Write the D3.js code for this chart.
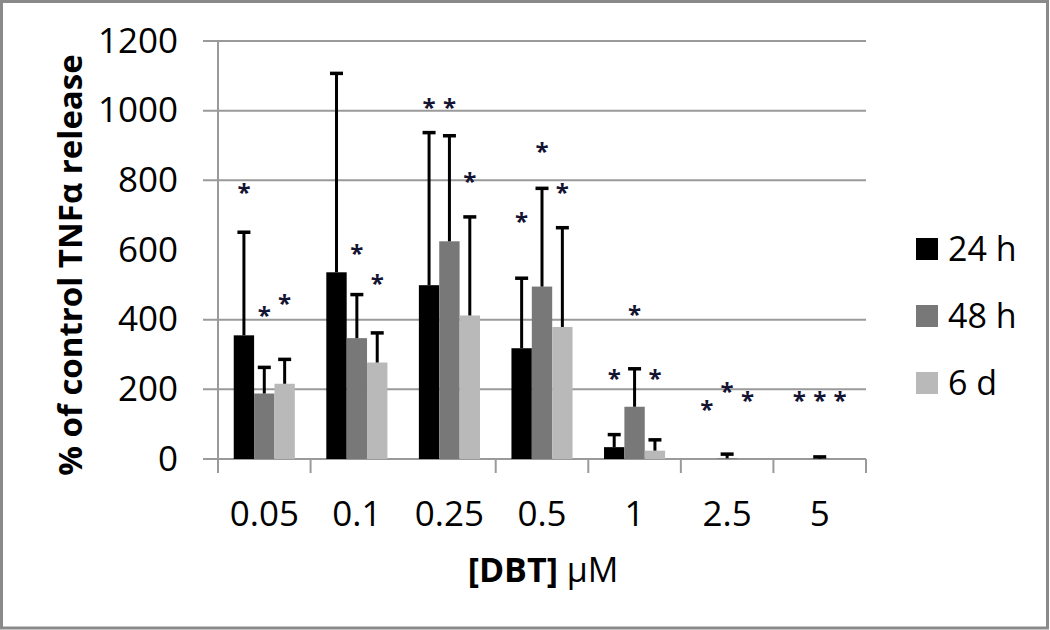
<!DOCTYPE html>
<html>
<head>
<meta charset="utf-8">
<script src="https://cdn.jsdelivr.net/npm/d3@7"></script>
<style>
  body { margin: 0; background: #fff; }
  svg text { font-family: "Open Sans", sans-serif; fill: #000; }
</style>
</head>
<body>
<div id="chart"></div>
<script>
// doses on the x axis
var doses = ["0.05", "0.1", "0.25", "0.5", "1", "2.5", "5"];
var seriesNames = ["24 h", "48 h", "6 d"];

// mean % of control TNFa release
var mean24h = [355, 536, 499, 318, 34, 0, 0];
var mean48h = [188, 347, 625, 495, 150, 2, 1];
var mean6d  = [216, 277, 412, 379, 24, 0, 0];

// upper error bar length
var sd24h = [296, 571, 438, 201, 36, 0, 0];
var sd48h = [75, 125, 303, 282, 109, 12, 5];
var sd6d  = [70, 85, 283, 285, 31, 0, 0];

// height of the significance stars, null = no star
var star24h = [779, null, 1022, 694, 243, 155, 181];
var star48h = [426, 604, 1022, 897, 428, 208, 181];
var star6d  = [460, 517, 810, 779, 243, 181, 181];

var yTicks = [0, 200, 400, 600, 800, 1000, 1200];
var yGridMissing = [600];      // original has no gridline / tick at 600
var xTickMissing = ["0.25"];   // nor a category tick left of 0.25

var colors = ["#000000", "#787878", "#b9b9b9"];

var series = [
    {name: seriesNames[0], mean: mean24h, sd: sd24h, star: star24h, color: colors[0]},
    {name: seriesNames[1], mean: mean48h, sd: sd48h, star: star48h, color: colors[1]},
    {name: seriesNames[2], mean: mean6d,  sd: sd6d,  star: star6d,  color: colors[2]}
];

//Set-up canvas
var svgWidth = 1050;
var svgHeight = 630;

var plot = {left: 218, right: 866, top: 41, bottom: 459};

var svg = d3.select("#chart")
    .append("svg")
    .attr("width", svgWidth)
    .attr("height", svgHeight);

// outer frame
svg.append("rect")
    .attr("x", 1.5).attr("y", 1.5)
    .attr("width", svgWidth - 4).attr("height", svgHeight - 3.5)
    .attr("fill", "none")
    .attr("stroke", "#8a8a8a")
    .attr("stroke-width", 3);

// scales
var x0 = d3.scaleBand()
    .domain(doses)
    .range([plot.left, plot.right]);

var bw = x0.bandwidth();

var x1 = d3.scaleBand()
    .domain(seriesNames)
    .range([bw * 0.17, bw * 0.83]);

var y = d3.scaleLinear()
    .domain([0, 1200])
    .range([plot.bottom, plot.top]);

// gridlines (they also carry the left tick marks)
svg.append("g")
    .selectAll("line")
    .data(yTicks.filter(v => yGridMissing.indexOf(v) < 0))
    .enter()
    .append("line")
    .attr("x1", plot.left - 15)
    .attr("x2", plot.right)
    .attr("y1", d => y(d))
    .attr("y2", d => y(d))
    .attr("stroke", "#9a9a9a")
    .attr("stroke-width", 2);

// vertical axis line
svg.append("line")
    .attr("x1", plot.left).attr("x2", plot.left)
    .attr("y1", y(1200)).attr("y2", y(0) + 14)
    .attr("stroke", "#9a9a9a")
    .attr("stroke-width", 2);

// category ticks below the axis
var xTickPos = doses.filter(d => xTickMissing.indexOf(d) < 0).map(d => x0(d));
xTickPos.push(plot.right);

svg.append("g")
    .selectAll("line")
    .data(xTickPos)
    .enter()
    .append("line")
    .attr("x1", d => d)
    .attr("x2", d => d)
    .attr("y1", y(0))
    .attr("y2", y(0) + 14)
    .attr("stroke", "#9a9a9a")
    .attr("stroke-width", 2);

// axis labels
var leftAxis = d3.axisLeft(y).tickValues(yTicks).tickFormat(d3.format("d")).tickSize(0).tickPadding(40);
var bottomAxis = d3.axisBottom(x0).tickSize(0).tickPadding(42);

var yAxis = svg.append("g")
    .attr("transform", `translate(${plot.left}, 0)`)
    .call(leftAxis);

var xAxis = svg.append("g")
    .attr("transform", `translate(0, ${plot.bottom})`)
    .call(bottomAxis);

[yAxis, xAxis].forEach(function(ax) {
    ax.select(".domain").remove();
    ax.selectAll("text")
        .style("font-family", '"Open Sans", sans-serif')
        .style("font-size", "35px")
        .attr("fill", "#000");
});

// bars
var groups = svg.append("g")
    .selectAll("g")
    .data(series)
    .enter()
    .append("g");

groups.selectAll("rect")
    .data(s => s.mean.map((v, i) => ({dose: doses[i], v: v, s: s})))
    .enter()
    .append("rect")
    .attr("x", d => x0(d.dose) + x1(d.s.name))
    .attr("y", d => y(d.v))
    .attr("width", x1.bandwidth())
    .attr("height", d => y(0) - y(d.v))
    .attr("fill", d => d.s.color);

// error bars
var errData = [];
series.forEach(function(s) {
    s.mean.forEach(function(v, i) {
        if (s.sd[i] > 0) {
            errData.push({
                cx: x0(doses[i]) + x1(s.name) + x1.bandwidth() / 2,
                lo: v,
                hi: v + s.sd[i]
            });
        }
    });
});

var errGroup = svg.append("g").attr("stroke", "#000").attr("stroke-width", 3);

errGroup.selectAll(".stem")
    .data(errData)
    .enter()
    .append("line")
    .attr("x1", d => d.cx).attr("x2", d => d.cx)
    .attr("y1", d => y(d.lo)).attr("y2", d => y(d.hi));

errGroup.selectAll(".cap")
    .data(errData)
    .enter()
    .append("line")
    .attr("x1", d => d.cx - 6.5).attr("x2", d => d.cx + 6.5)
    .attr("y1", d => y(d.hi)).attr("y2", d => y(d.hi))
    .attr("stroke-width", 3.5);

// significance stars
var starData = [];
series.forEach(function(s) {
    s.star.forEach(function(v, i) {
        if (v !== null) {
            starData.push({cx: x0(doses[i]) + x1(s.name) + x1.bandwidth() / 2, v: v});
        }
    });
});

svg.append("g")
    .selectAll("text")
    .data(starData)
    .enter()
    .append("text")
    .text("*")
    .attr("x", d => d.cx)
    .attr("y", d => y(d.v) + 13)
    .attr("text-anchor", "middle")
    .style("font-size", "24px")
    .style("font-weight", "bold")
    .style("fill", "#141432");

// axis titles
svg.append("text")
    .attr("transform", "translate(82, 265) rotate(-90)")
    .attr("text-anchor", "middle")
    .style("font-size", "33px")
    .style("font-weight", "bold")
    .text("% of control TNF\u03b1 release");

var xTitle = svg.append("text")
    .attr("x", 543)
    .attr("y", 582)
    .attr("text-anchor", "middle")
    .style("font-size", "34px");

xTitle.append("tspan").style("font-weight", "bold").text("[DBT]");
xTitle.append("tspan").text(" \u00b5M");

// legend
var legend = svg.append("g")
    .attr("transform", "translate(916, 238)");

var legendItems = legend.selectAll("g")
    .data(series)
    .enter()
    .append("g")
    .attr("transform", (d, i) => `translate(0, ${i * 67})`);

legendItems.append("rect")
    .attr("width", 22)
    .attr("height", 22)
    .attr("fill", d => d.color);

legendItems.append("text")
    .attr("x", 32)
    .attr("y", 23)
    .style("font-size", "34px")
    .text(d => d.name);
</script>
</body>
</html>
